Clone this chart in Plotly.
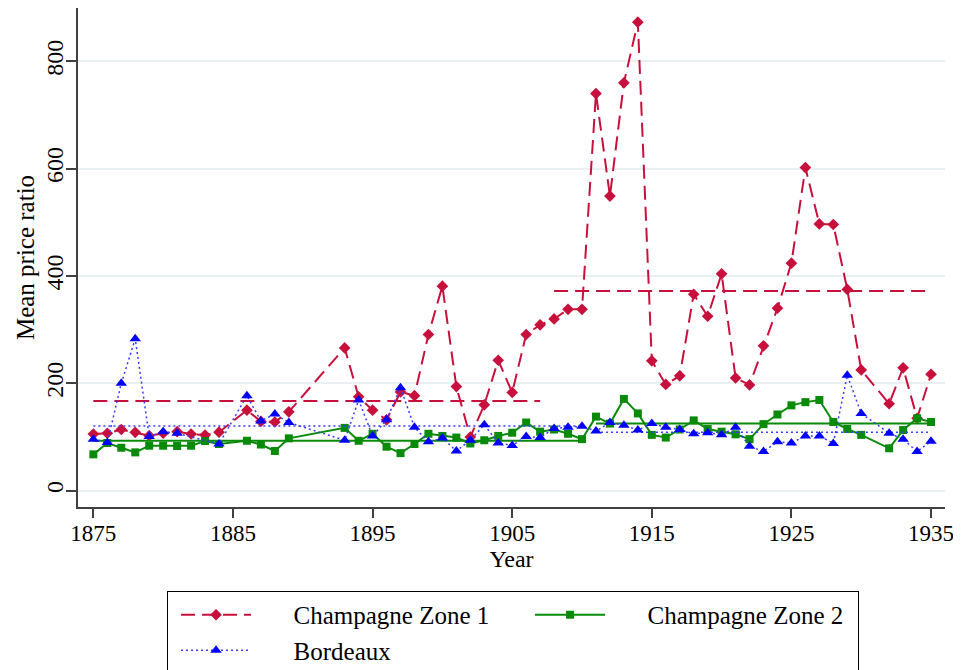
import plotly.graph_objects as go

years = list(range(1875, 1936))

zone1 = [105.6, 107, 114, 108.7, 102.5, 107, 110, 105.6, 103.7, 109,
         None, 150, 129, 128, 147, None, None, None, 266, 175,
         150, 132, 184, 177, 291, 381, 194, 100, 160, 243,
         183, 291, 309, 320, 338, 338, 740, 549, 760, 873,
         242, 198, 214, 366, 325, 404, 210, 197, 270, 340,
         424, 602, 497, 496, 375, 225, None, 162, 229, 135,
         217]
zone2 = [67.7, 88.8, 80, 71.4, 83.8, 83.8, 83.2, 83.8, 92.5, 87,
         None, 93, 86, 74, 97.5, None, None, None, 117, 93,
         106, 82, 70, 87, 106, 102, 99, 88, 94, 102,
         108, 127, 110, 114, 106, 96, 138, 125, 171, 144,
         104, 99, 114, 131, 115, 110, 105, 96, 124, 142,
         159, 165, 169, 128, 115, 104, None, 79, 113, 135,
         128]
bordeaux = [96, 90, 200, 283, 101, 110, 107, None, None, 87,
            None, 177, 130, 143, 127, None, None, None, 94, 169,
            102, 132, 192, 118, 91, 98, 74, 94, 123, 89,
            84, 101, 99, 116, 118, 120, 111, 127, 122, 113,
            125, 118, 114, 106, 108, 104, 118, 83, 73, 91,
            89, 102, 102, 88, 215, 144, None, 107, 96, 73,
            92]

# period means (start year, end year, value)
zone1_means = [(1875, 1907, 167), (1908, 1935, 372)]
zone2_means = [(1875, 1910, 93), (1911, 1935, 125)]
bordeaux_means = [(1875, 1910, 120.5), (1911, 1935, 109)]

RED = "#C8103C"
GREEN = "#098A09"
BLUE = "#0000FF"
BLUE_LINE = "#3A3AFF"
FONT = "Liberation Serif"
pad = "\u00a0" * 6

fig = go.Figure()

series = [
    ("Champagne Zone 1", zone1, zone1_means, RED, RED, "14px,7px", "diamond", 9, 2, None),
    ("Champagne Zone 2", zone2, zone2_means, GREEN, GREEN, "solid", "square", 8, 2, 243),
    ("Bordeaux", bordeaux, bordeaux_means, BLUE, BLUE_LINE, "2px,3px", "triangle-up", 10, 1.5, None),
]

for name, vals, means, col, lcol, dash, sym, msize, lw, lwidth in series:
    for x0, x1, m in means:
        fig.add_trace(go.Scatter(
            x=[x0, x1], y=[m, m], mode="lines",
            line=dict(color=lcol, dash=dash, width=lw),
            showlegend=False, hoverinfo="skip"))
    fig.add_trace(go.Scatter(
        x=years, y=vals, mode="lines+markers", connectgaps=True,
        name=pad + name, legendwidth=lwidth,
        line=dict(color=lcol, dash=dash, width=lw),
        marker=dict(symbol=sym, size=msize, color=col)))

# page body adds an 8px offset, so the figure is drawn 8px smaller
fig.update_layout(
    width=953, height=662,
    margin=dict(l=70, r=16, t=0, b=163, autoexpand=False),
    plot_bgcolor="white", paper_bgcolor="white",
    font=dict(family=FONT, size=22, color="black"),
    xaxis=dict(
        range=[1873.9, 1936], tickvals=list(range(1875, 1936, 10)),
        showgrid=False, zeroline=False,
        showline=True, linecolor="#404040", linewidth=2,
        ticks="outside", ticklen=9, tickwidth=1.5, tickcolor="#404040",
        ticklabelstandoff=-5,
        tickfont=dict(size=23),
        title=dict(text="Year", font=dict(size=24), standoff=5)),
    yaxis=dict(
        range=[-30.4, 899.4], tickvals=[0, 200, 400, 600, 800],
        tickangle=-90,
        showgrid=True, gridcolor="#EAF0F2", gridwidth=1.5, zeroline=False,
        showline=True, linecolor="#404040", linewidth=2,
        ticks="outside", ticklen=10, tickwidth=1.5, tickcolor="#404040",
        ticklabelstandoff=-7,
        tickfont=dict(size=24),
        title=dict(text="Mean price ratio", font=dict(size=25), standoff=1)),
    legend=dict(
        orientation="h", x=0.1027, y=-0.1683, xanchor="left", yanchor="top",
        entrywidth=261, entrywidthmode="pixels", itemwidth=70, indentation=8,
        bordercolor="black", borderwidth=1, bgcolor="white",
        font=dict(size=25), traceorder="normal"),
)

fig.write_html("out.html")
